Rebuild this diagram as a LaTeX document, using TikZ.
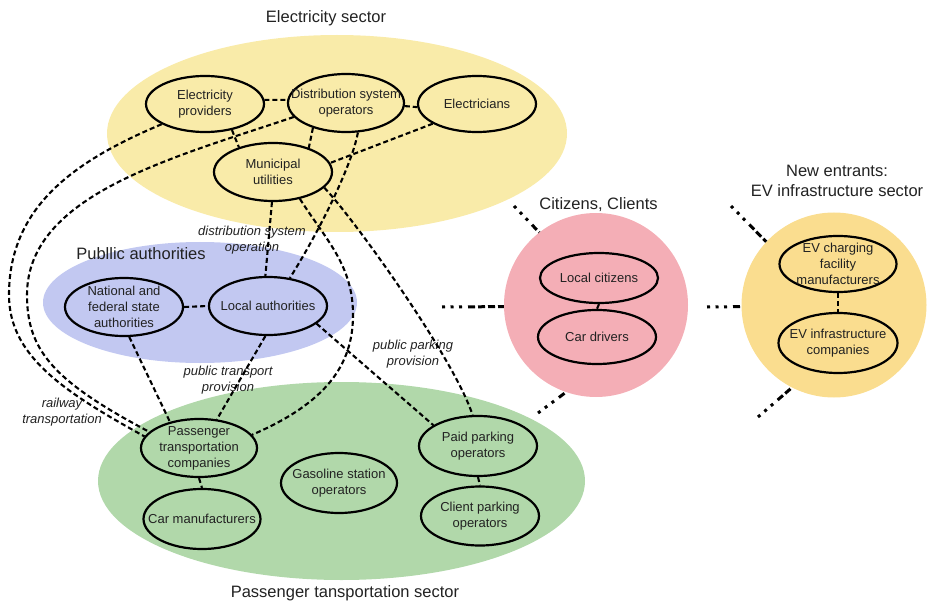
\documentclass[tikz,border=0pt]{standalone}
\usepackage{fontspec}
\setmainfont{Liberation Sans}
\usetikzlibrary{shapes.geometric}

% sector fills
\definecolor{elecfill}{HTML}{F9EBA9}
\definecolor{authfill}{HTML}{C2C8F1}
\definecolor{transfill}{HTML}{B1D8AA}
\definecolor{citizenfill}{HTML}{F4AEB6}
\definecolor{evfill}{HTML}{FADD8F}
\definecolor{ink}{HTML}{222222}

\newcommand\actorfont{\fontsize{13}{16}\selectfont}
\newcommand\sectorfont{\fontsize{16.5}{20}\selectfont}
\newcommand\notefont{\fontsize{13}{16}\selectfont\itshape}

\begin{document}
\begin{tikzpicture}[x=1pt, y=-1pt,
  sector/.style={ellipse, inner sep=0pt, draw=none},
  actor/.style 2 args={ellipse, draw=black, line width=2.2pt,
    minimum width=#1, minimum height=#2, inner sep=0pt},
  txt/.style={align=center, font=\actorfont, text=ink, inner sep=0pt},
  sectortitle/.style={align=center, font=\sectorfont, text=ink, inner sep=0pt},
  note/.style={align=center, font=\notefont, text=ink, inner sep=0pt},
  conn/.style={draw=black, line width=2.1pt, dash pattern=on 5pt off 3pt},
  stub/.style={draw=black, line width=3pt,
    dash pattern=on 3pt off 5.5pt on 3pt off 5.5pt on 3pt off 6pt
      on 7pt off 3pt on 7pt off 3pt on 7pt off 3pt on 7pt off 80pt}
]
\useasboundingbox (0,0) rectangle (929,604);

% ---- sector areas ----
\node[sector, fill=elecfill, minimum width=460, minimum height=197] (elec) at (337,133.5) {};
\node[sector, fill=authfill, minimum width=314, minimum height=121] (auth) at (200,302.5) {};
\node[sector, fill=transfill, minimum width=487, minimum height=198] (trans) at (341.5,481) {};
\node[circle, fill=citizenfill, minimum size=184, inner sep=0pt] (pink) at (596,305) {};
\node[circle, fill=evfill, minimum size=185, inner sep=0pt] (orange) at (834,305) {};

% ---- sector titles ----
\node[sectortitle] (t-elec) at (326,18) {Electricity sector};
\node[sectortitle] (t-auth) at (141,254) {Publlic authorities};
\node[sectortitle] (t-trans) at (345,593) {Passenger tansportation sector};
\node[sectortitle] (t-cit) at (598.5,205) {Citizens, Clients};
\node[sectortitle] (t-ev) at (837,181) {New entrants:\\EV infrastructure sector};

% ---- actors ----
\node[actor={118}{56}, label={[txt]center:{Electricity\\providers}}] (ep) at (205,104) {};
\node[actor={116}{58}, label={[txt]center:{Distribution system\\operators}}] (dso) at (346,103) {};
\node[actor={118}{56}, label={[txt]center:{Electricians}}] (el) at (477,104) {};
\node[actor={118}{58}, label={[txt]center:{Municipal\\utilities}}] (mu) at (273,172) {};

\node[actor={118}{58}, label={[txt]center:{National and\\federal state\\authorities}}] (na) at (124,307) {};
\node[actor={118}{58}, label={[txt]center:{Local authorities}}] (la) at (268,306) {};

\node[actor={116}{58}, label={[txt]center:{Passenger\\transportation\\companies}}] (pt) at (199,448) {};
\node[actor={117}{60}, label={[txt]center:{Car manufacturers}}] (cm) at (202,519) {};
\node[actor={116}{60}, label={[txt]center:{Gasoline station\\operators}}] (gs) at (339,483) {};
\node[actor={118}{60}, label={[txt]center:{Paid parking\\operators}}] (pp) at (478,446) {};
\node[actor={118}{59}, label={[txt]center:{Client parking\\operators}}] (cp) at (480,516) {};

\node[actor={118}{50}, label={[txt]center:{Local citizens}}] (lc) at (599,278) {};
\node[actor={118}{54}, label={[txt]center:{Car drivers}}] (cd) at (597,337) {};

\node[actor={117}{56}, label={[txt]center:{EV charging\\facility\\manufacturers}}] (evc) at (838,264) {};
\node[actor={119}{60}, label={[txt]center:{EV infrastructure\\companies}}] (evi) at (838,343) {};

% ---- relation notes ----
\node[note] (n-dso) at (252,240) {distribution system\\operation};
\node[note] (n-ptp) at (228,380) {public transport\\provision};
\node[note] (n-ppp) at (413,354) {public parking\\provision};
\node[note] (n-rail) at (62,412) {railway\\transportation};

% ---- relations inside the electricity sector ----
\draw[conn] (ep.4) -- (dso.177);
\draw[conn] (dso.-3) -- (el.183);
\draw[conn] (ep.-44) -- (mu.144);
\draw[conn] (dso.217) -- (mu.34);
\draw[conn] (el.204) -- (mu.9);

% ---- railway transportation ----
\draw[conn] (ep.205) .. controls (77,160) and (9,205) .. (9,295)
                     .. controls (9,355) and (62,391) .. (pt.168);
\draw[conn] (dso.195) .. controls (172,158) and (27,195) .. (27,295)
                      .. controls (27,350) and (53,381) .. (pt.162);

% ---- distribution system operation ----
\draw[conn] (dso.-68) .. controls (352,165) and (320,230) .. (la.52);
\draw[conn] (mu.-92) -- (la.95);

% ---- municipal utilities to transport and parking ----
\draw[conn] (mu.-45) .. controls (326,240) and (353,265) .. (353,315)
                     .. controls (353,365) and (326,403) .. (pt.14);
\draw[conn] (mu.-17) .. controls (355,220) and (455,360) .. (pp.100);

% ---- public authorities ----
\draw[conn] (na.east) -- (la.west);
\draw[conn] (na.-80) -- (pt.138);
\draw[conn] (la.-95) -- (pt.58);
\draw[conn] (la.-20) -- (pp.155);

% ---- within sectors ----
\draw[conn] (pt.south) -- (cm.north);
\draw[conn] (pp.south) -- (cp.north);
\draw[conn] (lc.south) -- (cd.north);
\draw[conn] (evc.south) -- (evi.north);

% ---- open links of the citizen and EV sectors ----
\coordinate (ps1) at (442,307);
\coordinate (ps2) at (514,206);
\coordinate (ps3) at (538,413);
\coordinate (os1) at (707,307);
\coordinate (os2) at (731,206);
\coordinate (os3) at (758,417);
\draw[stub] (ps1) -- (pink.181);
\draw[stub] (ps2) -- (pink.128);
\draw[stub] (ps3) -- (pink.251);
\draw[stub] (os1) -- (orange.181);
\draw[stub] (os2) -- (orange.137);
\draw[stub] (os3) -- (orange.243);
\end{tikzpicture}
\end{document}
